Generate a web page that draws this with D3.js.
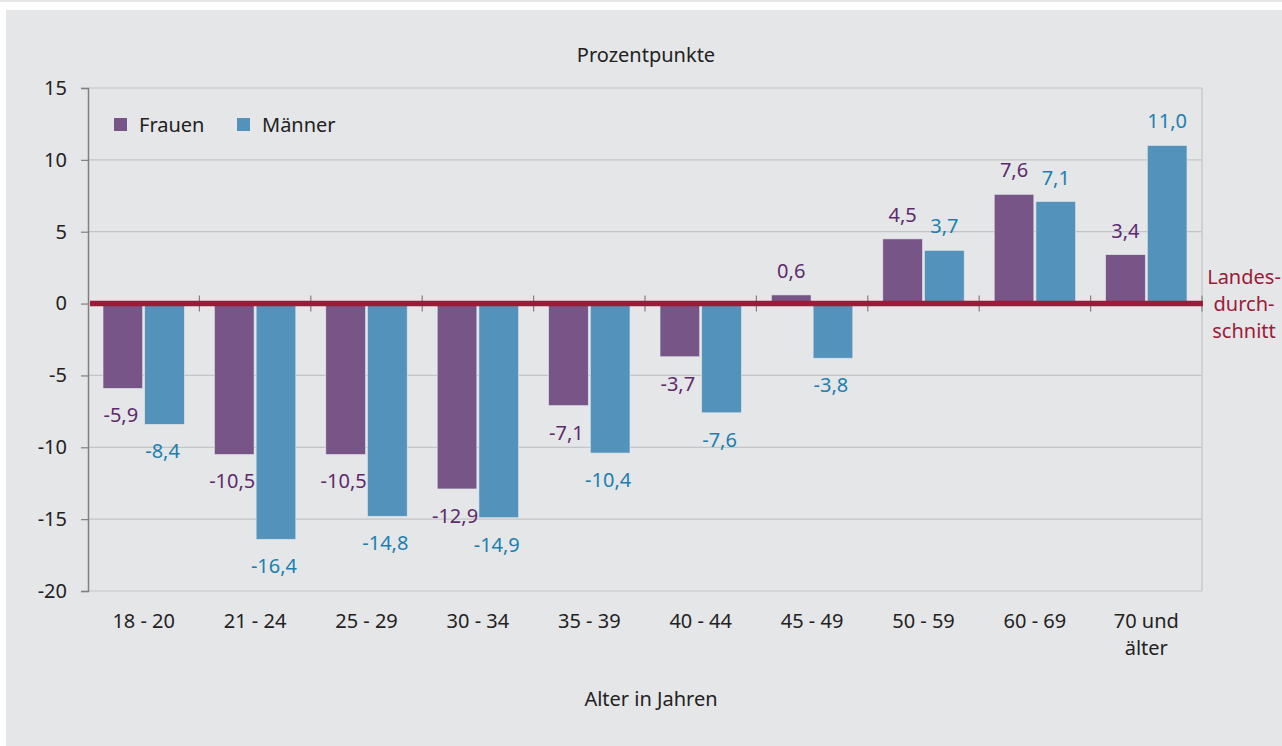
<!DOCTYPE html>
<html>
<head>
<meta charset="utf-8">
<script src="https://cdn.jsdelivr.net/npm/d3@7"></script>
<style>
  body { margin: 0; background: #fff; }
  svg { display: block; font-family: "Noto Sans", "Open Sans", sans-serif; }
</style>
</head>
<body>
<div id="chart"></div>
<script>
var width = 1282;
var height = 746;

var categories = ["18 - 20", "21 - 24", "25 - 29", "30 - 34", "35 - 39", "40 - 44", "45 - 49", "50 - 59", "60 - 69", "70 und älter"];
var frauen = [-5.9, -10.5, -10.5, -12.9, -7.1, -3.7, 0.6, 4.5, 7.6, 3.4];
var maenner = [-8.4, -16.4, -14.8, -14.9, -10.4, -7.6, -3.8, 3.7, 7.1, 11.0];
var seriesNames = ["Frauen", "Männer"];
var yTicks = [15, 10, 5, 0, -5, -10, -15, -20];

var barColors = ["#775587", "#5393bb"];
var labelColors = ["#5e2a6e", "#1b80b0"];
var red = "#9b1b39";

var plotLeft = 88, plotRight = 1202, plotTop = 88, plotBottom = 591;

var svg = d3.select("#chart").append("svg")
    .attr("width", width).attr("height", height);

// background panel
svg.append("rect").attr("x", 0).attr("y", 0).attr("width", width).attr("height", 2).attr("fill", "#e5e6e8");
svg.append("rect").attr("x", 6).attr("y", 10).attr("width", width - 6).attr("height", height - 10).attr("fill", "#e5e6e8");

var x = d3.scaleBand().domain(categories).range([plotLeft, plotRight]);
var xs = d3.scaleBand().domain(seriesNames).range([0, x.bandwidth()]).paddingOuter(0.36).paddingInner(0.05);
var y = d3.scaleLinear().domain([-20, 15]).range([plotBottom, plotTop]);

// grid
svg.append("g").selectAll("line").data(yTicks).join("line")
    .attr("x1", plotLeft).attr("x2", plotRight)
    .attr("y1", function(d) { return y(d); }).attr("y2", function(d) { return y(d); })
    .attr("stroke", "#c3c4c6").attr("stroke-width", 1.2);
svg.append("line").attr("x1", plotRight).attr("x2", plotRight).attr("y1", plotTop).attr("y2", plotBottom)
    .attr("stroke", "#c3c4c6").attr("stroke-width", 1.2);

// y axis
var yAxis = svg.append("g").attr("transform", "translate(" + plotLeft + ",0)")
    .call(d3.axisLeft(y).tickValues(yTicks).tickSize(7).tickPadding(14).tickFormat(function(d) { return String(d); }));
yAxis.select(".domain").attr("stroke", "#808080").attr("stroke-width", 1.5);
yAxis.selectAll(".tick line").attr("stroke", "#808080").attr("stroke-width", 1.2);
yAxis.selectAll("text").attr("font-size", 20).attr("fill", "#222").attr("font-family", "Noto Sans");

// bars
var data = [];
categories.forEach(function(c, i) {
  data.push({ cat: c, s: 0, v: frauen[i] });
  data.push({ cat: c, s: 1, v: maenner[i] });
});

svg.append("g").selectAll("rect").data(data).join("rect")
    .attr("x", function(d) { return x(d.cat) + xs(seriesNames[d.s]); })
    .attr("width", xs.bandwidth())
    .attr("y", function(d) { return y(Math.max(0, d.v)); })
    .attr("height", function(d) { return Math.abs(y(d.v) - y(0)); })
    .attr("fill", function(d) { return barColors[d.s]; })
    .attr("stroke", "#dfe3ea").attr("stroke-width", 0.6);

// zero line ticks at band boundaries
var bounds = categories.slice(1).map(function(c) { return x(c); }).concat([plotRight]);
svg.append("g").selectAll("line").data(bounds).join("line")
    .attr("x1", function(d) { return d; }).attr("x2", function(d) { return d; })
    .attr("y1", y(0) - 8).attr("y2", y(0) + 8)
    .attr("stroke", "#808080").attr("stroke-width", 1.2);

// Landesdurchschnitt line
svg.append("line").attr("x1", plotLeft + 2).attr("x2", plotRight + 1)
    .attr("y1", y(0)).attr("y2", y(0))
    .attr("stroke", red).attr("stroke-width", 5.5);

// value labels
svg.append("g").selectAll("text").data(data).join("text")
    .attr("x", function(d) { return x(d.cat) + xs(seriesNames[d.s]) + xs.bandwidth() / 2 - (d.v < 0 ? 2 : 0); })
    .attr("y", function(d) { return d.v >= 0 ? y(d.v) - 17 : y(d.v) + 34; })
    .attr("text-anchor", "middle")
    .attr("font-size", 20)
    .attr("fill", function(d) { return labelColors[d.s]; })
    .text(function(d) { return d.v.toFixed(1).replace(".", ","); });

// x labels
var xl = svg.append("g").selectAll("text").data(categories).join("text")
    .attr("x", function(d) { return x(d) + x.bandwidth() / 2; })
    .attr("y", 628)
    .attr("text-anchor", "middle")
    .attr("font-size", 20)
    .attr("fill", "#222");
xl.each(function(d) {
  var parts = d === "70 und älter" ? ["70 und", "älter"] : [d];
  var t = d3.select(this);
  parts.forEach(function(p, i) {
    t.append("tspan").attr("x", x(d) + x.bandwidth() / 2).attr("dy", i === 0 ? 0 : 27).text(p);
  });
});

// titles
svg.append("text").attr("x", 646).attr("y", 62).attr("text-anchor", "middle")
    .attr("font-size", 20).attr("fill", "#222").text("Prozentpunkte");
svg.append("text").attr("x", 651).attr("y", 706).attr("text-anchor", "middle")
    .attr("font-size", 20).attr("fill", "#222").text("Alter in Jahren");

// Landesdurchschnitt label
var ld = svg.append("text").attr("x", 1244).attr("y", 284).attr("text-anchor", "middle")
    .attr("font-size", 20).attr("fill", red);
["Landes-", "durch-", "schnitt"].forEach(function(p, i) {
  ld.append("tspan").attr("x", 1244).attr("dy", i === 0 ? 0 : 27).text(p);
});

// legend
var lg = svg.append("g").selectAll("g").data(seriesNames).join("g")
    .attr("transform", function(d, i) { return "translate(" + [114, 237][i] + ",118)"; });
lg.append("rect").attr("width", 13).attr("height", 13)
    .attr("fill", function(d, i) { return barColors[i]; });
lg.append("text").attr("x", 25).attr("y", 14).attr("font-size", 20).attr("fill", "#222")
    .text(function(d) { return d; });
</script>
</body>
</html>
